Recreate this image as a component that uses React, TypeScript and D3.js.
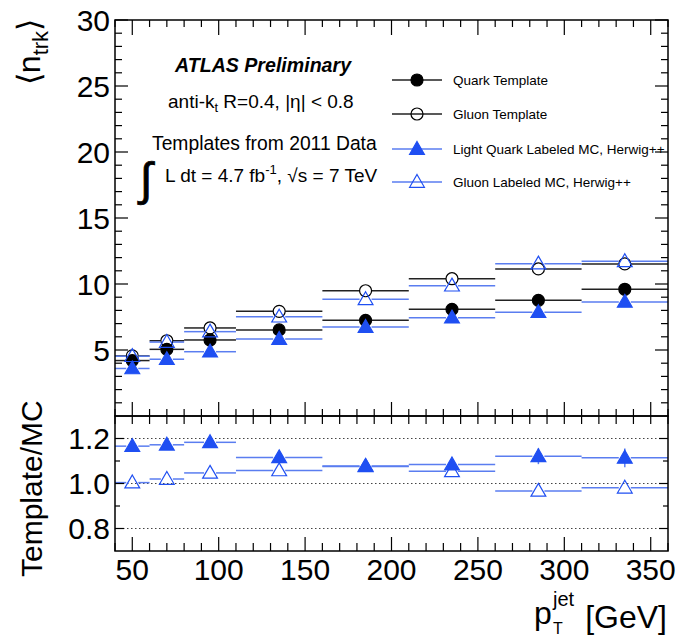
import React from 'react';
import * as d3 from 'd3';

// bins in jet pT [GeV]
const binEdges = [40, 60, 80, 110, 160, 210, 260, 310, 360];
const binCenters = [50, 70, 95, 135, 185, 235, 285, 335];

// <n_trk> per bin
const quarkTemplate = [4.2, 5.05, 5.76, 6.52, 7.25, 8.08, 8.76, 9.6];
const gluonTemplate = [4.55, 5.7, 6.67, 7.93, 9.49, 10.4, 11.14, 11.52];
const lightQuarkMC = [3.6, 4.3, 4.87, 5.83, 6.74, 7.45, 7.86, 8.64];
const gluonMC = [4.53, 5.6, 6.39, 7.52, 8.84, 9.87, 11.54, 11.72];

// Template / MC
const quarkRatio = [1.166, 1.172, 1.183, 1.116, 1.076, 1.084, 1.121, 1.114];
const gluonRatio = [1.004, 1.02, 1.047, 1.058, 1.078, 1.054, 0.967, 0.981];
const quarkRatioErr = [0.004, 0.005, 0.006, 0.007, 0.008, 0.012, 0.035, 0.042];
const gluonRatioErr = [0.003, 0.004, 0.005, 0.006, 0.008, 0.01, 0.012, 0.015];

const legendLabels = [
  'Quark Template',
  'Gluon Template',
  'Light Quark Labeled MC, Herwig++',
  'Gluon Labeled MC, Herwig++',
];

const xMajor = [50, 100, 150, 200, 250, 300, 350];
const yMajor = [5, 10, 15, 20, 25, 30];
const ratioMajor = [0.8, 1.0, 1.2];
const ratioMinor = [0.9, 1.1];

const W = 680;
const H = 638;
const left = 115;
const right = 668;
const topY = 20;
const midY = 416;
const botY = 551;
const font = "'Liberation Sans', Arial, Helvetica, sans-serif";

const BLUE = '#1f4ff2';
const BLUE_LINE = '#5a7df0';

const x = d3.scaleLinear().domain([40, 360]).range([left, right]);
const yTop = d3.scaleLinear().domain([0, 30]).range([midY, topY]);
const yRat = d3.scaleLinear().domain([0.7, 1.3]).range([botY, midY]);

type Kind = { shape: 'circle' | 'triangle'; filled: boolean; color: string; line: string };

const kinds: Kind[] = [
  { shape: 'circle', filled: true, color: '#000', line: '#222' },
  { shape: 'circle', filled: false, color: '#000', line: '#222' },
  { shape: 'triangle', filled: true, color: BLUE, line: BLUE_LINE },
  { shape: 'triangle', filled: false, color: BLUE, line: BLUE_LINE },
];

const R = 6;
const triPath = d3.symbol(d3.symbolTriangle, 95)() as string;

function Marker({ cx, cy, k }: { cx: number; cy: number; k: Kind }) {
  const fill = k.filled ? k.color : 'none';
  if (k.shape === 'circle') {
    return <circle cx={cx} cy={cy} r={R} fill={fill} stroke={k.color} strokeWidth={1.2} />;
  }
  return (
    <path d={triPath} transform={`translate(${cx},${cy + 1})`} fill={fill} stroke={k.color} strokeWidth={1.2} />
  );
}

function Series({ values, err, k, y }: { values: number[]; err?: number[]; k: Kind; y: d3.ScaleLinear<number, number> }) {
  return (
    <g>
      {values.map((v, i) => {
        const cx = x(binCenters[i]);
        const cy = y(v);
        const x0 = x(binEdges[i]);
        const x1 = x(binEdges[i + 1]);
        const e = err ? err[i] : 0;
        return (
          <g key={i}>
            <line x1={x0} x2={cx - R} y1={cy} y2={cy} stroke={k.line} strokeWidth={1.5} />
            <line x1={cx + R} x2={x1} y1={cy} y2={cy} stroke={k.line} strokeWidth={1.5} />
            {k.filled && e > 0 && (
              <line x1={cx} x2={cx} y1={y(v + e)} y2={y(v - e)} stroke={k.line} strokeWidth={1.5} />
            )}
            <Marker cx={cx} cy={cy} k={k} />
          </g>
        );
      })}
    </g>
  );
}

export default function App() {
  const xMinor = d3.range(40, 361, 10).filter((t) => t % 50 !== 0);
  const yMinor = d3.range(1, 30).filter((t) => t % 5 !== 0);
  const tick = { stroke: '#000', strokeWidth: 1.2 };

  return (
    <svg width={W} height={H} style={{ position: 'absolute', left: 0, top: 0 }} fontFamily={font}>
      <rect width={W} height={H} fill="#fff" />

      {/* ratio grid */}
      {ratioMajor.map((t) => (
        <line key={t} x1={left} x2={right} y1={yRat(t)} y2={yRat(t)} stroke="#444" strokeWidth={1} strokeDasharray="1.5,2.5" />
      ))}

      {/* data */}
      <Series values={quarkTemplate} k={kinds[0]} y={yTop} />
      <Series values={gluonTemplate} k={kinds[1]} y={yTop} />
      <Series values={lightQuarkMC} k={kinds[2]} y={yTop} />
      <Series values={gluonMC} k={kinds[3]} y={yTop} />
      <Series values={quarkRatio} err={quarkRatioErr} k={kinds[2]} y={yRat} />
      <Series values={gluonRatio} err={gluonRatioErr} k={kinds[3]} y={yRat} />

      {/* frames */}
      <rect x={left} y={topY} width={right - left} height={midY - topY} fill="none" stroke="#000" strokeWidth={1.5} />
      <rect x={left} y={midY} width={right - left} height={botY - midY} fill="none" stroke="#000" strokeWidth={1.5} />

      {/* x ticks */}
      {xMajor.map((t) => (
        <g key={t}>
          <line x1={x(t)} x2={x(t)} y1={topY} y2={topY + 15} {...tick} />
          <line x1={x(t)} x2={x(t)} y1={midY} y2={midY - 14} {...tick} />
          <line x1={x(t)} x2={x(t)} y1={midY} y2={midY + 8} {...tick} />
          <line x1={x(t)} x2={x(t)} y1={botY} y2={botY - 14} {...tick} />
          <text x={x(t)} y={580} fontSize={30} textAnchor="middle">{t}</text>
        </g>
      ))}
      {xMinor.map((t) => (
        <g key={t}>
          <line x1={x(t)} x2={x(t)} y1={topY} y2={topY + 7} {...tick} />
          <line x1={x(t)} x2={x(t)} y1={midY} y2={midY - 7} {...tick} />
          <line x1={x(t)} x2={x(t)} y1={midY} y2={midY + 8} {...tick} />
          <line x1={x(t)} x2={x(t)} y1={botY} y2={botY - 8} {...tick} />
        </g>
      ))}

      {/* y ticks top */}
      {yMajor.map((t) => (
        <g key={t}>
          <line x1={left} x2={left + 13} y1={yTop(t)} y2={yTop(t)} {...tick} />
          <line x1={right} x2={right - 13} y1={yTop(t)} y2={yTop(t)} {...tick} />
          <text x={110} y={yTop(t) + 10.5} fontSize={30} textAnchor="end">{t}</text>
        </g>
      ))}
      {yMinor.map((t) => (
        <g key={t}>
          <line x1={left} x2={left + 7} y1={yTop(t)} y2={yTop(t)} {...tick} />
          <line x1={right} x2={right - 7} y1={yTop(t)} y2={yTop(t)} {...tick} />
        </g>
      ))}

      {/* y ticks ratio */}
      {ratioMajor.map((t) => (
        <g key={t}>
          <line x1={left} x2={left + 9} y1={yRat(t)} y2={yRat(t)} {...tick} />
          <line x1={right} x2={right - 9} y1={yRat(t)} y2={yRat(t)} {...tick} />
          <text x={110} y={yRat(t) + 10.5} fontSize={30} textAnchor="end">{d3.format('.1f')(t)}</text>
        </g>
      ))}
      {ratioMinor.map((t) => (
        <g key={t}>
          <line x1={left} x2={left + 5} y1={yRat(t)} y2={yRat(t)} {...tick} />
          <line x1={right} x2={right - 5} y1={yRat(t)} y2={yRat(t)} {...tick} />
        </g>
      ))}

      {/* axis titles */}
      <text transform="translate(40,52) rotate(-90)" fontSize={32} textAnchor="middle">
        ⟨n<tspan fontSize={22} dy={8}>trk</tspan><tspan dy={-8}>⟩</tspan>
      </text>
      <text transform="translate(42,577) rotate(-90)" fontSize={30} textAnchor="start">Template/MC</text>
      <text x={534} y={624} fontSize={32}>p</text>
      <text x={553} y={606} fontSize={20}>jet</text>
      <text x={553} y={634} fontSize={16}>T</text>
      <text x={667} y={628} fontSize={32} textAnchor="end">[GeV]</text>

      {/* annotations */}
      <text x={175} y={72} fontSize={19.6} fontWeight="bold" fontStyle="italic">ATLAS Preliminary</text>
      <text x={168} y={108} fontSize={19}>
        anti-k<tspan fontSize={13} dy={4}>t</tspan><tspan dy={-4}> R=0.4, |η| &lt; 0.8</tspan>
      </text>
      <text x={152} y={150} fontSize={19.3}>Templates from 2011 Data</text>
      <text x={140} y={195} fontSize={46} stroke="#000" strokeWidth={0.8}>∫</text>
      <text x={165} y={182} fontSize={19}>
        L dt = 4.7 fb<tspan fontSize={13} dy={-8}>-1</tspan><tspan dy={8}>, √s = 7 TeV</tspan>
      </text>

      {/* legend */}
      {legendLabels.map((lab, i) => {
        const ly = [80, 114, 149, 182][i];
        return (
          <g key={lab}>
            <line x1={392} x2={442} y1={ly} y2={ly} stroke={kinds[i].line} strokeWidth={1.5} />
            <Marker cx={417} cy={ly} k={kinds[i]} />
            <text x={453} y={ly + 5} fontSize={13.5}>{lab}</text>
          </g>
        );
      })}
    </svg>
  );
}
